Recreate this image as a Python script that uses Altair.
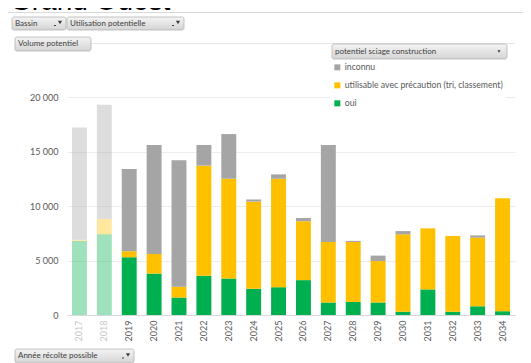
import altair as alt
import pandas as pd

# ---- data ----
years = ["2017", "2018", "2019", "2020", "2021", "2022", "2023", "2024", "2025",
         "2026", "2027", "2028", "2029", "2030", "2031", "2032", "2033", "2034"]
faded_years = ["2017", "2018"]
categories = ["inconnu", "utilisable avec précaution (tri, classement)", "oui"]
colors = ["#a5a5a5", "#ffc000", "#00b050"]
oui = [6800, 7400, 5300, 3800, 1600, 3600, 3350, 2400, 2550, 3200, 1150, 1200,
       1150, 300, 2350, 300, 800, 350]
utilisable = [100, 1400, 550, 1800, 1000, 10100, 9150, 8000, 9950, 5400, 5550,
              5500, 3800, 7100, 5600, 6950, 6300, 10350]
inconnu = [10300, 10500, 7550, 10000, 11600, 1900, 4100, 200, 400, 300, 8900,
           100, 500, 300, 0, 0, 200, 0]
y_ticks = [0, 5000, 10000, 15000, 20000]
title_text = "Grand Ouest"
btn_bassin = "Bassin"
btn_util = "Utilisation potentielle"
btn_volume = "Volume potentiel"
btn_annee = "Année récolte possible"
btn_legend = "potentiel sciage construction"

rows = []
for i, yr in enumerate(years):
    for cat, vals, rank in [(categories[2], oui, 0), (categories[1], utilisable, 1),
                            (categories[0], inconnu, 2)]:
        rows.append({"annee": yr, "categorie": cat, "volume": vals[i], "rang": rank})
df = pd.DataFrame(rows)

FONT = "Lato"
OX, OY = 67, 97  # page position of the plot origin (for decorations)


def one(label=""):
    return alt.Data(values=[{"t": label}])


bars = alt.Chart(alt.Data(values=df.to_dict("records"))).mark_bar().encode(
    x=alt.X("annee:O", sort=years,
            scale=alt.Scale(paddingInner=0.4, paddingOuter=0.2),
            axis=alt.Axis(title=None, labelAngle=270, labelFontSize=9, labelPadding=5,
                          ticks=False, tickSize=0, domainColor="#d9d9d9",
                          labelColor={"expr": "indexof(['2017','2018'], datum.value) >= 0 ? '#c6c6c6' : '#595959'"})),
    y=alt.Y("volume:Q", stack="zero", scale=alt.Scale(domain=[0, 20000], nice=False),
            axis=alt.Axis(title=None, values=y_ticks,
                          labelExpr="replace(format(datum.value, ',d'), ',', ' ')",
                          domain=False, ticks=False, tickSize=0, labelPadding=9,
                          gridColor="#ededed", labelColor="#595959", labelFontSize=9)),
    color=alt.Color("categorie:N", scale=alt.Scale(domain=categories, range=colors),
                    legend=alt.Legend(title=None, orient="none", legendX=263, legendY=-37,
                                      symbolType="square", symbolSize=36, symbolStrokeWidth=0,
                                      labelFontSize=8.7, labelColor="#595959", labelFont=FONT,
                                      rowPadding=8, padding=3, fillColor="white",
                                      labelLimit=300, labelOffset=3)),
    order=alt.Order("rang:Q", sort="ascending"),
    opacity=alt.condition(alt.FieldOneOfPredicate(field="annee", oneOf=faded_years),
                          alt.value(0.38), alt.value(1)),
)

grad = alt.Gradient(gradient="linear",
                    stops=[alt.GradientStop(color="#f4f4f4", offset=0),
                           alt.GradientStop(color="#d4d4d4", offset=1)],
                    x1=0, x2=0, y1=0, y2=1)


def button(x1, x2, y1, y2, label, icon=None):
    layers = []
    layers.append(alt.Chart(one(label)).mark_rect(
        cornerRadius=2, fill=grad, stroke="#b4b4b4", strokeWidth=0.8).encode(
        x=alt.value(x1 - OX), x2=alt.value(x2 - OX),
        y=alt.value(y1 - OY), y2=alt.value(y2 - OY)))
    layers.append(alt.Chart(one(label)).mark_text(
        align="left", baseline="middle", fontSize=8, color="#404040", font=FONT).encode(
        x=alt.value(x1 - OX + 3), y=alt.value((y1 + y2) / 2 - OY), text="t:N"))
    if icon == "filter":
        layers.append(alt.Chart(one()).mark_point(
            shape="triangle-down", filled=True, size=18, color="#404040", opacity=1).encode(
            x=alt.value(x2 - 6 - OX), y=alt.value((y1 + y2) / 2 - 1 - OY)))
        layers.append(alt.Chart(one()).mark_rule(color="#404040", strokeWidth=1).encode(
            x=alt.value(x2 - 12 - OX), x2=alt.value(x2 - 10 - OX),
            y=alt.value((y1 + y2) / 2 + 2 - OY)))
    elif icon == "drop":
        layers.append(alt.Chart(one()).mark_point(
            shape="triangle-down", filled=True, size=10, color="#404040", opacity=1).encode(
            x=alt.value(x2 - 8 - OX), y=alt.value((y1 + y2) / 2 - OY)))
    return layers


frame_top = alt.Chart(one()).mark_rule(color="#d9d9d9", strokeWidth=1).encode(
    x=alt.value(7.5 - OX), x2=alt.value(460), y=alt.value(12.5 - OY))
frame_left = alt.Chart(one()).mark_rule(color="#d9d9d9", strokeWidth=1).encode(
    x=alt.value(7.5 - OX), y=alt.value(12.5 - OY), y2=alt.value(300))
sep_line = alt.Chart(one()).mark_rule(color="#e6e6e6", strokeWidth=1).encode(
    x=alt.value(91 - OX), x2=alt.value(448), y=alt.value(43.5 - OY))
title = alt.Chart(one(title_text)).mark_text(
    align="left", baseline="alphabetic", fontSize=28, font="Liberation Sans",
    color="#000000").encode(x=alt.value(10 - OX), y=alt.value(9.5 - OY), text="t:N")

layers = [frame_top, frame_left, title, sep_line, bars]
layers += button(12, 66, 17, 30, btn_bassin, "filter")
layers += button(67, 184, 17, 30, btn_util, "filter")
layers += button(15, 91, 37, 51, btn_volume)
layers += button(332, 507, 44, 59, btn_legend, "drop")
layers += button(15, 134, 349, 363, btn_annee, "filter")

chart = alt.layer(*layers).properties(
    width=448, height=218,
    autosize=alt.AutoSizeParams(type="none"),
    padding={"left": 59, "top": 89, "right": 8, "bottom": 48},
    background="white",
).configure_view(stroke=None).configure_axis(labelFont=FONT).configure_legend(labelFont=FONT)

chart.save("out.html", embed_options={"renderer": "svg", "actions": False})
